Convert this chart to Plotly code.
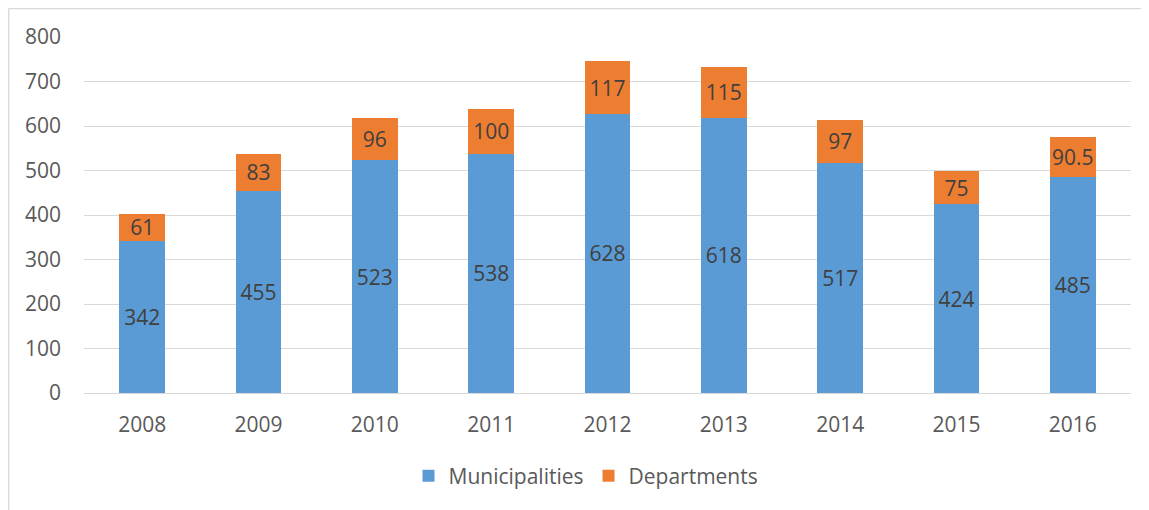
import plotly.graph_objects as go

years = ["2008", "2009", "2010", "2011", "2012", "2013", "2014", "2015", "2016"]
municipalities = [342, 455, 523, 538, 628, 618, 517, 424, 485]
departments = [61, 83, 96, 100, 117, 115, 97, 75, 90.5]
y_ticks = [0, 100, 200, 300, 400, 500, 600, 700, 800]

FONT = "Open Sans"
TXT = "#595959"
LBL = "#404040"
GRID = "#D9D9D9"
FS = 21

def fmt(v):
    return str(int(v)) if float(v).is_integer() else str(v)

fig = go.Figure()
fig.add_trace(go.Bar(
    x=years, y=municipalities, name="Municipalities",
    marker=dict(color="#5B9BD5", line=dict(width=0)),
    text=[fmt(v) for v in municipalities], textposition="inside",
    insidetextanchor="middle", textangle=0, constraintext="none",
    textfont=dict(family=FONT, size=FS, color=LBL),
))
fig.add_trace(go.Bar(
    x=years, y=departments, name="Departments",
    marker=dict(color="#ED7D31", line=dict(width=0)),
    text=[fmt(v) for v in departments], textposition="inside",
    insidetextanchor="middle", textangle=0, constraintext="none",
    textfont=dict(family=FONT, size=FS, color=LBL),
))

# page body has an 8px margin; screen coords = figure coords + 8
OFF = 8
W, H = 1149 - OFF, 510 - OFF
L, R, T, B = 84 - OFF, 18, 37 - OFF, 117
pw, ph = W - L - R, H - T - B

def px2x(p):
    return (p - OFF - L) / pw

def py2y(p):
    return (H - B - (p - OFF)) / ph

fig.update_layout(
    width=W, height=H,
    barmode="stack", bargap=0.605,
    margin=dict(l=L, r=R, t=T, b=B),
    paper_bgcolor="white", plot_bgcolor="white",
    font=dict(family=FONT, size=FS, color=TXT),
    showlegend=True,
    legend=dict(orientation="h", x=px2x(586), xanchor="center",
                y=py2y(476), yanchor="middle",
                font=dict(family=FONT, size=FS, color=TXT),
                itemwidth=30, traceorder="normal"),
    xaxis=dict(showgrid=False, showline=False, ticks="",
               tickfont=dict(family=FONT, size=FS, color=TXT),
               ticklabelstandoff=17),
    yaxis=dict(range=[0, 800], tickvals=y_ticks, showgrid=True,
               gridcolor=GRID, gridwidth=1.3, zeroline=True,
               zerolinecolor=GRID, zerolinewidth=1.3, showline=False,
               ticks="", tickfont=dict(family=FONT, size=FS, color=TXT),
               ticklabelstandoff=22),
    shapes=[
        dict(type="line", xref="paper", yref="paper",
             x0=px2x(8.6), x1=px2x(1170), y0=py2y(8.6), y1=py2y(8.6),
             line=dict(color=GRID, width=1.5)),
        dict(type="line", xref="paper", yref="paper",
             x0=px2x(8.6), x1=px2x(8.6), y0=py2y(8.6), y1=py2y(530),
             line=dict(color=GRID, width=1.5)),
    ],
)

fig.write_html("out.html")
